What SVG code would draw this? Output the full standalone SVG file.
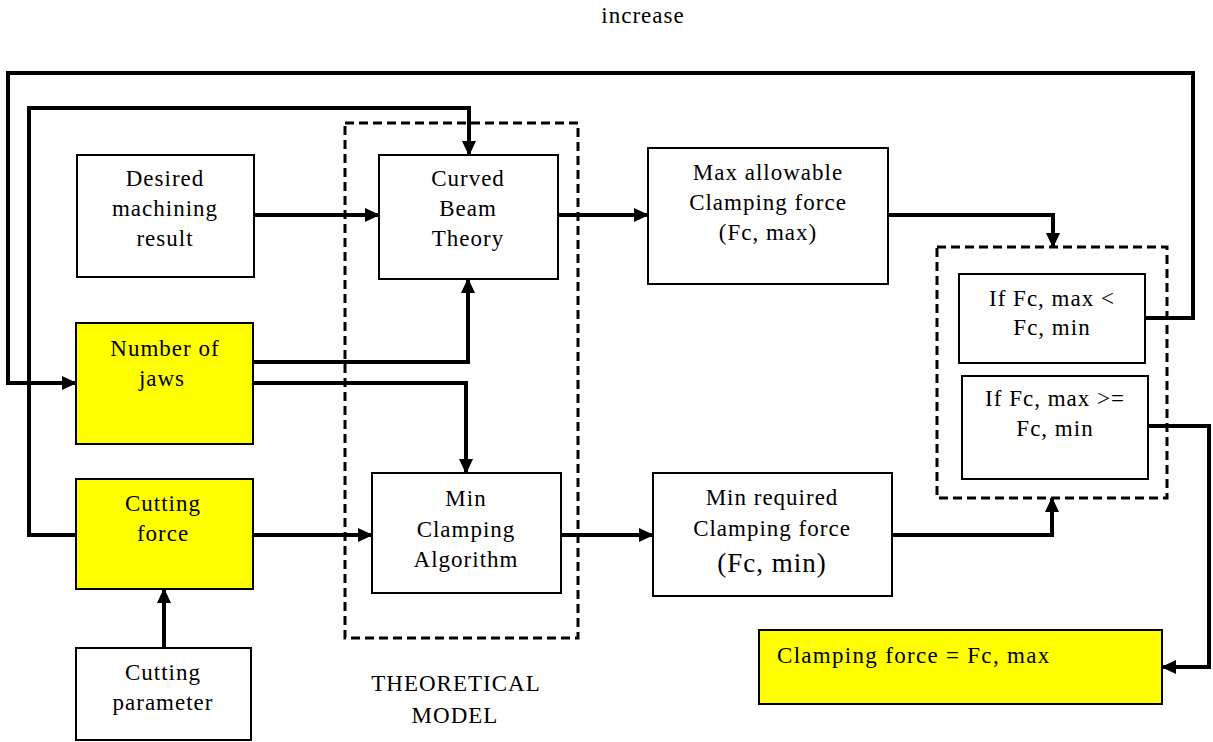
<svg xmlns="http://www.w3.org/2000/svg" width="1213" height="742" viewBox="0 0 1213 742">
<style>
.box{fill:#fff;stroke:#000;stroke-width:2}
.yel{fill:#ffff00;stroke:#000;stroke-width:2}
.dash{fill:none;stroke:#000;stroke-width:3;stroke-dasharray:9 5}
.ln{fill:none;stroke:#000;stroke-width:4}
text{font-family:'Liberation Serif','DejaVu Serif',serif;font-size:23px;letter-spacing:1px;fill:#000;text-anchor:middle;dominant-baseline:central}
</style>
<defs>
<marker id="ah" markerUnits="userSpaceOnUse" markerWidth="16" markerHeight="16" refX="14" refY="8" orient="auto">
<path d="M0,1 L15,8 L0,15 Z" fill="#000"/>
</marker>
</defs>
<rect width="1213" height="742" fill="#fff"/>
<g font-family="Liberation Serif, serif">
<text x="643" y="15">increase</text>
<g id="theory-frame"><rect class="dash" x="345" y="123" width="233" height="515"/>
<text x="456" y="683">THEORETICAL</text><text x="455" y="715">MODEL</text></g>
<g id="decision-frame"><rect class="dash" x="937" y="247" width="230" height="251"/></g>
<g id="desired"><rect class="box" x="77" y="155" width="177" height="122"/>
<text x="165" y="178">Desired</text><text x="165" y="208">machining</text><text x="165" y="238">result</text></g>
<g id="curved"><rect class="box" x="379" y="155" width="179" height="124"/>
<text x="468" y="178">Curved</text><text x="468" y="208">Beam</text><text x="468" y="238">Theory</text></g>
<g id="maxforce"><rect class="box" x="648" y="148" width="240" height="136"/>
<text x="768" y="172">Max allowable</text><text x="768" y="202">Clamping force</text><text x="768" y="232">(Fc, max)</text></g>
<g id="jaws"><rect class="yel" x="76" y="323" width="177" height="121"/>
<text x="165" y="348">Number of</text><text x="162" y="378">jaws</text></g>
<g id="cutforce"><rect class="yel" x="76" y="479" width="177" height="110"/>
<text x="163" y="503">Cutting</text><text x="163" y="533">force</text></g>
<g id="minclamp"><rect class="box" x="372" y="473" width="189" height="120"/>
<text x="466" y="498">Min</text><text x="466" y="529">Clamping</text><text x="466" y="559">Algorithm</text></g>
<g id="minforce"><rect class="box" x="653" y="473" width="239" height="123"/>
<text x="772" y="497">Min required</text><text x="772" y="528">Clamping force</text><text x="772" y="563" style="font-size:27px">(Fc, min)</text></g>
<g id="cutparam"><rect class="box" x="76" y="648" width="175" height="92"/>
<text x="163" y="672">Cutting</text><text x="163" y="702">parameter</text></g>
<g id="iflt"><rect class="box" x="959" y="274" width="186" height="89"/>
<text x="1052" y="298">If Fc, max &lt;</text><text x="1052" y="327">Fc, min</text></g>
<g id="ifge"><rect class="box" x="962" y="376" width="186" height="103"/>
<text x="1055" y="398">If Fc, max &gt;=</text><text x="1055" y="428">Fc, min</text></g>
<g id="result"><rect class="yel" x="759" y="630" width="403" height="74"/>
<text x="777" y="655" style="text-anchor:start;letter-spacing:1.3px">Clamping force = Fc, max</text></g>
</g>
<g id="connectors">
<path class="ln" d="M254,215 H379" marker-end="url(#ah)"/>
<path class="ln" d="M558,215 H648" marker-end="url(#ah)"/>
<path class="ln" d="M888,215 H1053 V247" marker-end="url(#ah)"/>
<path class="ln" d="M253,362 H468 V279" marker-end="url(#ah)"/>
<path class="ln" d="M253,383 H466 V473" marker-end="url(#ah)"/>
<path class="ln" d="M253,535 H372" marker-end="url(#ah)"/>
<path class="ln" d="M561,535 H653" marker-end="url(#ah)"/>
<path class="ln" d="M892,535 H1052 V498" marker-end="url(#ah)"/>
<path class="ln" d="M164,648 V589" marker-end="url(#ah)"/>
<path class="ln" d="M76,535 H29 V108 H469 V155" marker-end="url(#ah)"/>
<path class="ln" d="M1145,318 H1193 V73 H8 V383 H76" marker-end="url(#ah)"/>
<path class="ln" d="M1148,426 H1209 V667 H1162" marker-end="url(#ah)"/>
</g>
</svg>
